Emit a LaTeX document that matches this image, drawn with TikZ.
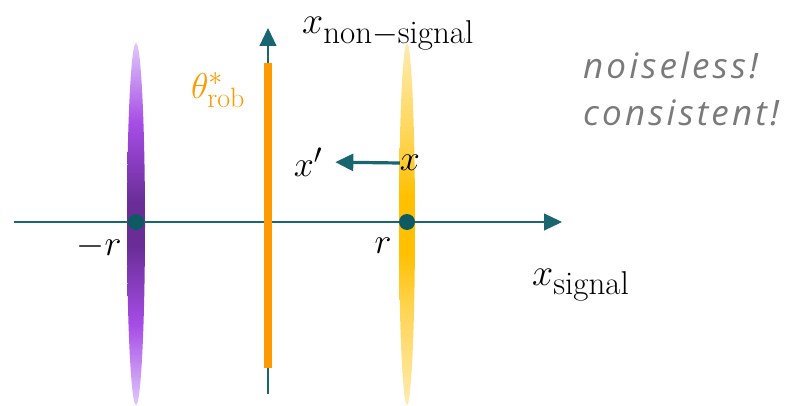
\RequirePackage{fix-cm}
\documentclass[tikz,border=0pt]{standalone}
\usepackage{fontspec}
\newfontfamily\notefont{Open Sans}[LetterSpace=9]
\usetikzlibrary{arrows.meta,positioning}
\DeclareMathSizes{36}{36}{28}{20}
\DeclareMathSizes{38}{38}{33}{22}

\definecolor{axisteal}{HTML}{1A6670}
\definecolor{dotteal}{HTML}{0E5A63}
\definecolor{robor}{HTML}{FF9900}
\definecolor{notegray}{HTML}{7A7A7A}
\definecolor{purpleL}{HTML}{E3C8FB}
\definecolor{purpleM}{HTML}{A64DE6}
\definecolor{purpleD}{HTML}{6A2D98}
\definecolor{goldL}{HTML}{FFEBB0}
\definecolor{goldM}{HTML}{FFD555}
\definecolor{goldD}{HTML}{FFC000}

\pgfdeclareverticalshading{purplefade}{100bp}{color(0bp)=(purpleL); color(25bp)=(purpleL);
  color(36bp)=(purpleM); color(47bp)=(purpleD); color(53bp)=(purpleD);
  color(64bp)=(purpleM); color(75bp)=(purpleL); color(100bp)=(purpleL)}
\pgfdeclareverticalshading{goldfade}{100bp}{color(0bp)=(goldL); color(25bp)=(goldL);
  color(38bp)=(goldM); color(46bp)=(goldD); color(54bp)=(goldD);
  color(62bp)=(goldM); color(75bp)=(goldL); color(100bp)=(goldL)}

\tikzset{
  axisline/.style = {draw=axisteal, line width=1.2pt,
                     -{Triangle[length=18pt,width=17pt]}},
  perturb/.style  = {draw=axisteal, line width=3.2pt,
                     -{Triangle[length=18pt,width=17pt]}},
  pt/.style       = {circle, fill=dotteal, minimum size=16pt, inner sep=0pt},
  lbl/.style      = {font=\fontsize{36}{40}\selectfont, inner sep=0pt},
  axlbl/.style    = {font=\fontsize{38}{42}\selectfont, inner sep=0pt},
  robbar/.style   = {fill=robor, minimum width=8pt, minimum height=305pt, inner sep=0pt},
  note/.style     = {font=\notefont\itshape\fontsize{35}{47}\selectfont,
                     text=notegray, align=left, inner sep=0pt},
}

\begin{document}
\begin{tikzpicture}[x=1pt,y=-1pt]
\useasboundingbox (0,0) rectangle (792,406);

% the two classes
\shade[shading=purplefade] (136,224) ellipse [x radius=9, y radius=181];
\shade[shading=goldfade] (407,224) ellipse [x radius=8, y radius=181];

% axes
\coordinate (hstart) at (14,222);
\coordinate (hend)   at (562,222);
\coordinate (vstart) at (268,394);
\coordinate (vend)   at (268,28);
\draw[axisline] (hstart) -- (hend);
\draw[axisline] (vstart) -- (vend);

% robust classifier
\node[robbar] (rob) at (268,215.5) {};
\node[lbl, text=robor] (roblbl) at (218,90) {$\theta^*_{\mathrm{rob}}$};

% class means
\node[pt] (negr) at (136,222) {};
\node[pt] (posr) at (407,222) {};
\node[lbl] (negrlbl) at (99,246) {$-r$};
\node[lbl] (posrlbl) at (383,246) {$r$};

% axis labels
\node[axlbl, anchor=base west] (xns) at (302,34) {$x_{\mathrm{non{-}signal}}$};
\node[axlbl, anchor=base west] (xsig) at (532,285) {$x_{\mathrm{signal}}$};

% perturbation
\node[lbl] (xpt) at (410,163) {$x$};
\node[lbl] (xprime) at (308,162) {$x'$};
\draw[perturb, shorten >=13pt] (xpt.west) -- (xprime.east);

\node[note, anchor=north west] (remark) at (583,52) {noiseless!\\consistent!};
\end{tikzpicture}
\end{document}
